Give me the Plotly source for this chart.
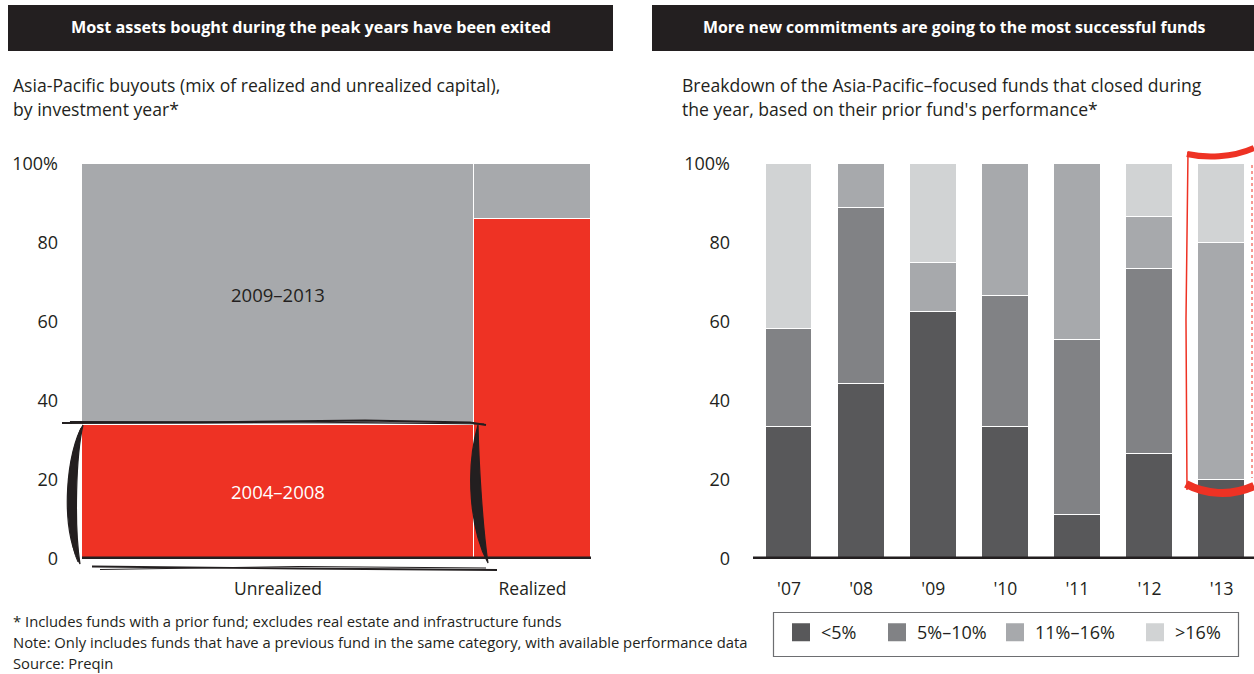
import plotly.graph_objects as go

# ---------------- data ----------------
# Left panel (Marimekko): columns and their relative widths
columns = ["Unrealized", "Realized"]
col_widths = [77, 23]
share_2004_2008 = [34, 86]
share_2009_2013 = [66, 14]
segment_labels = ["2004–2008", "2009–2013"]

# Right panel: stacked shares by fund close year
years = ["'07", "'08", "'09", "'10", "'11", "'12", "'13"]
lt5 = [33.3, 44.4, 62.5, 33.3, 11.1, 26.7, 20.0]
p5_10 = [25.0, 44.5, 0.0, 33.3, 44.4, 46.7, 0.0]
p11_16 = [0.0, 11.1, 12.5, 33.4, 44.5, 13.3, 60.0]
gt16 = [41.7, 0.0, 25.0, 0.0, 0.0, 13.3, 20.0]
series_names = ["<5%", "5%–10%", "11%–16%", ">16%"]

y_tickvals = [0, 20, 40, 60, 80, 100]
y_ticktext = ["0", "20", "40", "60", "80", "100%"]

# ---------------- styling ----------------
W, H = 1254, 674
FONT = "Open Sans"
TXT = "#231f20"
INK = "#231f20"
RED = "#ee3224"
GRAY = "#a7a9ac"
series_colors = ["#58585a", "#818285", "#a7a9ac", "#d1d3d4"]
legend_x_px = [781, 877, 995, 1135]


def px(x):
    return x / W


def py(y):
    return 1 - y / H


y_dom = [py(559), py(164)]

fig = go.Figure()

# Left marimekko
centers = []
acc = 0
for w in col_widths:
    centers.append(acc + w / 2)
    acc += w

fig.add_trace(go.Bar(x=centers, y=share_2004_2008, width=col_widths, name=segment_labels[0],
                     marker=dict(color=RED, line=dict(color="white", width=1)),
                     showlegend=False, xaxis="x", yaxis="y", hoverinfo="skip"))
fig.add_trace(go.Bar(x=centers, y=share_2009_2013, width=col_widths, name=segment_labels[1],
                     marker=dict(color=GRAY, line=dict(color="white", width=1)),
                     showlegend=False, xaxis="x", yaxis="y", hoverinfo="skip"))

# Right stacked bars
for vals, nm, col in zip([lt5, p5_10, p11_16, gt16], series_names, series_colors):
    fig.add_trace(go.Bar(x=list(range(len(years))), y=vals, name=nm, width=0.65,
                         marker=dict(color=col, line=dict(color="white", width=1.5)),
                         xaxis="x2", yaxis="y2", hoverinfo="skip", showlegend=False,
                         legendgroup=nm))
# legend entries (square swatches) for the right panel series, one legend each
legend_ids = ["legend", "legend2", "legend3", "legend4"]
for nm, col, lid in zip(series_names, series_colors, legend_ids):
    fig.add_trace(go.Scatter(x=[None], y=[None], mode="markers", name=nm, legendgroup=nm,
                             legend=lid,
                             marker=dict(symbol="square", size=16, color=col,
                                         line=dict(color=col, width=2)),
                             xaxis="x2", yaxis="y2", hoverinfo="skip"))

axis_font = dict(family=FONT, size=17.5, color=TXT)
common = dict(showgrid=False, zeroline=False, showline=False, ticks="", automargin=False,
              fixedrange=True)

legend_common = dict(orientation="h", y=py(614), xanchor="left", yanchor="top",
                     borderwidth=0, bgcolor="rgba(0,0,0,0)",
                     font=dict(family=FONT, size=18, color=TXT),
                     itemclick=False, itemdoubleclick=False, itemsizing="trace")

fig.update_layout(
    width=W, height=H, margin=dict(l=0, r=0, t=0, b=0, pad=0, autoexpand=False),
    paper_bgcolor="white", plot_bgcolor="white",
    barmode="stack", bargap=0,
    xaxis=dict(domain=[px(82), px(591)], range=[0, 100], tickvals=centers, ticktext=columns,
               ticklabelstandoff=17, tickfont=axis_font, **common),
    yaxis=dict(domain=y_dom, range=[0, 100], tickvals=y_tickvals, ticktext=y_ticktext,
               ticklabelstandoff=23, tickfont=dict(family=FONT, size=18, color=TXT), **common),
    xaxis2=dict(domain=[px(753), 1.0], range=[-0.5, 6.45], tickvals=list(range(len(years))),
                ticktext=years, ticklabelstandoff=17, anchor="y2", tickfont=axis_font, **common),
    yaxis2=dict(domain=y_dom, range=[0, 100], tickvals=y_tickvals, ticktext=y_ticktext,
                ticklabelstandoff=22, anchor="x2", tickfont=dict(family=FONT, size=18, color=TXT),
                **common),
    showlegend=True,
)
for lid, lx in zip(legend_ids, legend_x_px):
    fig.update_layout({lid: dict(x=px(lx), **legend_common)})

shapes = []
# header boxes
shapes.append(dict(type="rect", xref="paper", yref="paper", x0=px(8), x1=px(613), y0=py(51), y1=py(5),
                   fillcolor=INK, line=dict(width=0), layer="below"))
shapes.append(dict(type="rect", xref="paper", yref="paper", x0=px(652), x1=1.0, y0=py(51), y1=py(5),
                   fillcolor=INK, line=dict(width=0), layer="below"))
# legend frame
shapes.append(dict(type="rect", xref="paper", yref="paper", x0=px(773.5), x1=px(1238.5),
                   y0=py(656.5), y1=py(612.5), line=dict(color="#6d6e71", width=1.2),
                   fillcolor="rgba(0,0,0,0)", layer="below"))
# baselines
shapes.append(dict(type="line", xref="x domain", yref="y", x0=0, x1=1, y0=0, y1=0,
                   line=dict(color=INK, width=5), layer="above"))
shapes.append(dict(type="line", xref="x2 domain", yref="y2", x0=0, x1=1, y0=0, y1=0,
                   line=dict(color=INK, width=5), layer="above"))


def path(points):
    return "M " + " L ".join(f"{px(a):.5f},{py(b):.5f}" for a, b in points)


def cpath(cmds, close=False):
    out = []
    for c, pts in cmds:
        out.append(c + " " + " ".join(f"{px(a):.5f},{py(b):.5f}" for a, b in pts))
    return " ".join(out) + (" Z" if close else "")


# hand-drawn black scribble around the unrealized 2004-2008 block
black_strokes = [
    ([(62, 423), (200, 422.5), (365, 420.5), (470, 422.5), (486, 425)], 2.2),
    ([(70, 421.5), (300, 422), (484, 424)], 1.0),
    ([(92, 566.5), (300, 568.5), (497, 570)], 1.8),
    ([(100, 569.5), (300, 566.5), (486, 568)], 1.0),
]
for pts, wdt in black_strokes:
    shapes.append(dict(type="path", xref="paper", yref="paper", path=path(pts),
                       line=dict(color=INK, width=wdt)))
# left crescent
shapes.append(dict(type="path", xref="paper", yref="paper",
                   path=cpath([("M", [(83, 425)]), ("C", [(67, 450), (59, 525), (80, 564)]),
                               ("C", [(74, 525), (76, 455), (83, 425)])], close=True),
                   fillcolor=INK, line=dict(color=INK, width=1.2)))
shapes.append(dict(type="path", xref="paper", yref="paper",
                   path=cpath([("M", [(81, 428)]), ("C", [(70, 452), (63, 530), (78, 562)])]),
                   line=dict(color=INK, width=1.0)))
# right crescent
shapes.append(dict(type="path", xref="paper", yref="paper",
                   path=cpath([("M", [(478, 425)]), ("C", [(465, 470), (470, 530), (488, 563)]),
                               ("C", [(483, 530), (479, 470), (478, 425)])], close=True),
                   fillcolor=INK, line=dict(color=INK, width=1.2)))

# red bracket around '13
shapes.append(dict(type="path", xref="paper", yref="paper",
                   path=path([(1188, 152), (1186, 320), (1187, 490)]),
                   line=dict(color=RED, width=1.5)))
shapes.append(dict(type="path", xref="paper", yref="paper",
                   path=cpath([("M", [(1187, 154)]), ("C", [(1205, 158), (1232, 158), (1254, 148)])]),
                   line=dict(color=RED, width=6)))
shapes.append(dict(type="path", xref="paper", yref="paper",
                   path=cpath([("M", [(1186, 484)]), ("C", [(1205, 494), (1230, 497), (1254, 486)])]),
                   line=dict(color=RED, width=8)))
shapes.append(dict(type="path", xref="paper", yref="paper",
                   path=path([(1252, 165), (1252, 478)]),
                   line=dict(color=RED, width=1.0, dash="dot")))

fig.update_layout(shapes=shapes)

ann = []
# headers
ann.append(dict(xref="paper", yref="paper", x=px(310.5), y=py(27), xanchor="center", yanchor="middle",
                text="<b>Most assets bought during the peak years have been exited</b>", showarrow=False,
                font=dict(family=FONT, size=16.2, color="white")))
ann.append(dict(xref="paper", yref="paper", x=px(954.5), y=py(27), xanchor="center", yanchor="middle",
                text="<b>More new commitments are going to the most successful funds</b>", showarrow=False,
                font=dict(family=FONT, size=15.9, color="white")))
# subtitles
for x0, lines in [(11, ["Asia-Pacific buyouts (mix of realized and unrealized capital),", "by investment year*"]),
                  (680, ["Breakdown of the Asia-Pacific–focused funds that closed during",
                         "the year, based on their prior fund's performance*"])]:
    for i, t in enumerate(lines):
        ann.append(dict(xref="paper", yref="paper", x=px(x0), y=py(85 + 24 * i), xanchor="left",
                        yanchor="middle", text=t, showarrow=False,
                        font=dict(family=FONT, size=17.6, color=TXT)))
# segment labels inside left chart
ann.append(dict(xref="x", yref="y", x=centers[0], y=share_2004_2008[0] / 2, text=segment_labels[0],
                showarrow=False, font=dict(family=FONT, size=18.5, color="white")))
ann.append(dict(xref="x", yref="y", x=centers[0], y=share_2004_2008[0] + share_2009_2013[0] / 2,
                text=segment_labels[1], showarrow=False, font=dict(family=FONT, size=18.5, color=TXT)))
# footnotes
notes = ["* Includes funds with a prior fund; excludes real estate and infrastructure funds",
         "Note: Only includes funds that have a previous fund in the same category, with available performance data",
         "Source: Preqin"]
for i, t in enumerate(notes):
    ann.append(dict(xref="paper", yref="paper", x=px(11), y=py(621 + 21 * i), xanchor="left", yanchor="middle",
                    text=t, showarrow=False, font=dict(family=FONT, size=14.8, color=TXT)))
fig.update_layout(annotations=ann)

fig.write_html("out.html", config={"displayModeBar": False},
               post_script="document.body.style.margin='0';document.body.style.overflow='hidden';")
